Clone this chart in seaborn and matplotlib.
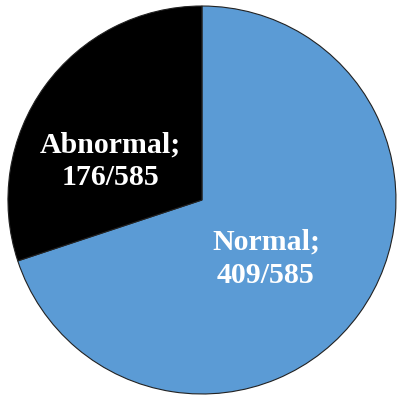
import matplotlib
matplotlib.use('Agg')
import matplotlib.pyplot as plt
import seaborn as sns

sns.set_theme(style="white")
plt.rcParams['font.family'] = ['Liberation Serif', 'DejaVu Serif']

# data
labels = ['Normal', 'Abnormal']
counts = [409, 176]
total = 585
colors = ['#5B9BD5', '#000000']
# label positions (data coords, pie radius = 1)
label_pos = [(0.33, -0.305), (-0.47, 0.20)]

fig = plt.figure(figsize=(4.01, 4.00), dpi=100)
ax = fig.add_axes([0, 0, 1, 1])

wedges, _ = ax.pie(counts, colors=colors, startangle=90, counterclock=False,
                   radius=1.0,
                   wedgeprops=dict(edgecolor='#222222', linewidth=0.8))

for (x, y), lab, c in zip(label_pos, labels, counts):
    ax.text(x, y, f'{lab};\n{c}/{total}', ha='center', va='center',
            color='white', fontsize=21.5, fontweight='bold', linespacing=1.3)

ax.set_xlim(-1.041, 1.026)
ax.set_ylim(-1.031, 1.031)
ax.set_aspect('auto')
ax.axis('off')

plt.savefig('out.png', dpi=100, facecolor='white')
